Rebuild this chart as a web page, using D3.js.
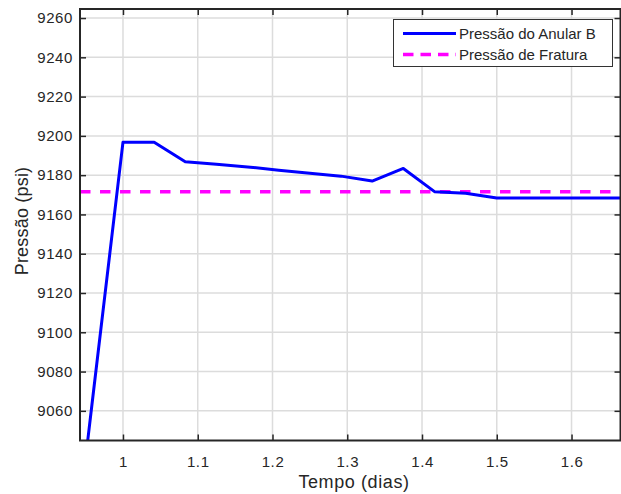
<!DOCTYPE html>
<html>
<head>
<meta charset="utf-8">
<script src="https://cdn.jsdelivr.net/npm/d3@7"></script>
<style>
  body { margin: 0; background: #fff; }
  svg { font-family: "Liberation Sans", Arial, sans-serif; }
</style>
</head>
<body>
<svg id="chart" width="621" height="494"></svg>
<script>
// time in days, pressure in psi (hourly samples)
const tempo = [0.9167, 0.9583, 1.0, 1.0417, 1.0833, 1.125, 1.1667, 1.2083, 1.25, 1.2917, 1.3333, 1.375, 1.4167, 1.4583, 1.5, 1.5417, 1.5833, 1.625, 1.6667];
const pressaoAnular = [8928, 9062.6, 9196.8, 9196.8, 9186.8, 9185.5, 9184.2, 9182.5, 9181, 9179.5, 9177, 9183.4, 9171.6, 9170.8, 9168.4, 9168.4, 9168.4, 9168.4, 9168.4];
const pressaoFratura = 9171.6;
const xTicks = [1, 1.1, 1.2, 1.3, 1.4, 1.5, 1.6];
const yTicks = [9060, 9080, 9100, 9120, 9140, 9160, 9180, 9200, 9220, 9240, 9260];
const legendLabels = ["Pressão do Anular B", "Pressão de Fratura"];

const svg = d3.select("#chart");
const plotL = 80, plotR = 620.5, plotT = 9, plotB = 440.5;
const textColor = "#262626";

const x = d3.scaleLinear().domain([0.9425, 1.6655]).range([plotL, plotR]);
const y = d3.scaleLinear().domain([9044.9, 9264.6]).range([plotB, plotT]);

// grid lines
const grid = svg.append("g");
grid.selectAll(".vg").data(xTicks).enter().append("line")
  .attr("x1", d => x(d)).attr("x2", d => x(d))
  .attr("y1", plotT).attr("y2", plotB)
  .attr("stroke", "#dcdcdc").attr("stroke-width", 1.5);
grid.selectAll(".hg").data(yTicks).enter().append("line")
  .attr("x1", plotL).attr("x2", plotR)
  .attr("y1", d => y(d)).attr("y2", d => y(d))
  .attr("stroke", "#dcdcdc").attr("stroke-width", 1.5);

// clip for the data
svg.append("clipPath").attr("id", "clip")
  .append("rect").attr("x", plotL).attr("y", plotT)
  .attr("width", plotR - plotL).attr("height", plotB - plotT);

const plot = svg.append("g").attr("clip-path", "url(#clip)");

// fracture pressure (dashed)
plot.append("line")
  .attr("x1", plotL).attr("x2", plotR)
  .attr("y1", y(pressaoFratura)).attr("y2", y(pressaoFratura))
  .attr("stroke", "#ff00ff").attr("stroke-width", 3.5)
  .attr("stroke-dasharray", "10.5,9.5");

// annulus pressure
const line = d3.line().x((d, i) => x(tempo[i])).y(d => y(d));
plot.append("path")
  .datum(pressaoAnular)
  .attr("d", line)
  .attr("fill", "none")
  .attr("stroke", "#0000ff")
  .attr("stroke-width", 3)
  .attr("stroke-linejoin", "round");

// axes (box with inward ticks)
const tickLen = 6;
const xAxisB = d3.axisBottom(x).tickValues(xTicks).tickSize(-tickLen).tickPadding(16).tickFormat(d3.format("~g"));
const xAxisT = d3.axisTop(x).tickValues(xTicks).tickSize(-tickLen).tickFormat("");
const yAxisL = d3.axisLeft(y).tickValues(yTicks).tickSize(-tickLen).tickPadding(7).tickFormat(d3.format("d"));
const yAxisR = d3.axisRight(y).tickValues(yTicks).tickSize(-tickLen).tickFormat("");

function styleAxis(g) {
  g.select(".domain").remove();
  g.selectAll(".tick line").attr("stroke", textColor).attr("stroke-width", 1.5);
  g.selectAll(".tick text").attr("fill", textColor)
    .style("font-size", "15px").style("letter-spacing", "0.6px");
}
svg.append("g").attr("transform", `translate(0,${plotB})`).call(xAxisB).call(styleAxis);
svg.append("g").attr("transform", `translate(0,${plotT})`).call(xAxisT).call(styleAxis);
svg.append("g").attr("transform", `translate(${plotL},0)`).call(yAxisL).call(styleAxis);
svg.append("g").attr("transform", `translate(${plotR},0)`).call(yAxisR).call(styleAxis);

svg.append("rect")
  .attr("x", plotL).attr("y", plotT)
  .attr("width", plotR - plotL).attr("height", plotB - plotT)
  .attr("fill", "none").attr("stroke", textColor).attr("stroke-width", 2);

// axis labels
svg.append("text")
  .attr("x", 354).attr("y", 488)
  .attr("text-anchor", "middle").attr("fill", textColor)
  .style("font-size", "18px").style("letter-spacing", "0.6px").text("Tempo (dias)");
svg.append("text")
  .attr("transform", "translate(28,221) rotate(-90)")
  .attr("text-anchor", "middle").attr("fill", textColor)
  .style("font-size", "18px").style("letter-spacing", "0.2px").text("Pressão (psi)");

// legend
const lg = svg.append("g");
lg.append("rect")
  .attr("x", 393.5).attr("y", 19.5).attr("width", 219).attr("height", 47)
  .attr("fill", "#fff").attr("stroke", "#333").attr("stroke-width", 1);
const legendStyles = [
  { color: "#0000ff", dash: null, w: 3 },
  { color: "#ff00ff", dash: "10.5,7", w: 3.5 }
];
legendLabels.forEach((label, i) => {
  const ly = 33.5 + i * 21;
  lg.append("line")
    .attr("x1", 403).attr("x2", 456).attr("y1", ly).attr("y2", ly)
    .attr("stroke", legendStyles[i].color)
    .attr("stroke-width", legendStyles[i].w)
    .attr("stroke-dasharray", legendStyles[i].dash);
  lg.append("text")
    .attr("x", 459).attr("y", ly + 5.5)
    .attr("fill", textColor).style("font-size", "15px").text(label);
});
</script>
</body>
</html>
